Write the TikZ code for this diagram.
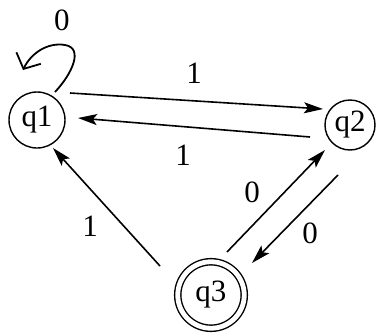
\documentclass[tikz,border=0pt]{standalone}
\usepackage{fontspec}
\setmainfont{Liberation Serif}
\usetikzlibrary{arrows.meta,calc}

\tikzset{
  state/.style={draw, circle, line width=1.4pt, inner sep=0pt, font=\fontsize{31}{34}\selectfont},
  accept/.style={state, double, double distance=4.8pt},
  edge/.style={line width=1.6pt, -{Stealth[length=19pt,width=11pt,inset=4pt]}},
  lbl/.style={font=\fontsize{31}{34}\selectfont},
}

\begin{document}
\begin{tikzpicture}[x=1pt,y=-1pt]
\useasboundingbox (0,0) rectangle (376,335);

% States
\node[state, minimum size=56pt] (q1) at (37,120) {q1};
\node[state, minimum size=50pt] (q2) at (350,125) {q2};
\node[accept, minimum size=66.5pt] (q3) at (211,295) {q3};

% Self loop on q1
\draw[line width=1.8pt, -{Straight Barb[length=12pt,width=27pt]}]
  ($(q1)+(18,-28)$) .. controls ($(q1)+(35,-46)$) and ($(q1)+(47,-72)$) .. ($(q1)+(28,-75)$)
  .. controls ($(q1)+(11,-78)$) and ($(q1)+(-6,-67)$) .. ($(q1)+(-14,-50)$);
\node[lbl] (l0) at (62,20) {0};

% Between q1 and q2
\draw[edge] ($(q1)+(33,-27)$) -- ($(q2)+(-27,-16)$);
\draw[edge] ($(q2)+(-40,12)$) -- ($(q1)+(41,-2)$);
\node[lbl] (l12) at (194,73) {1};
\node[lbl] (l21) at (183,155) {1};

% From q3 back to q1
\draw[edge] ($(q3)+(-51,-29)$) -- ($(q1)+(16,28)$);
\node[lbl] (l31) at (90,226) {1};

% Between q2 and q3
\draw[edge] ($(q3)+(16,-43)$) -- ($(q2)+(-25,25)$);
\draw[edge] ($(q2)+(-12,50)$) -- ($(q3)+(41,-32)$);
\node[lbl] (l32) at (252,192) {0};
\node[lbl] (l23) at (310,233) {0};
\end{tikzpicture}
\end{document}
